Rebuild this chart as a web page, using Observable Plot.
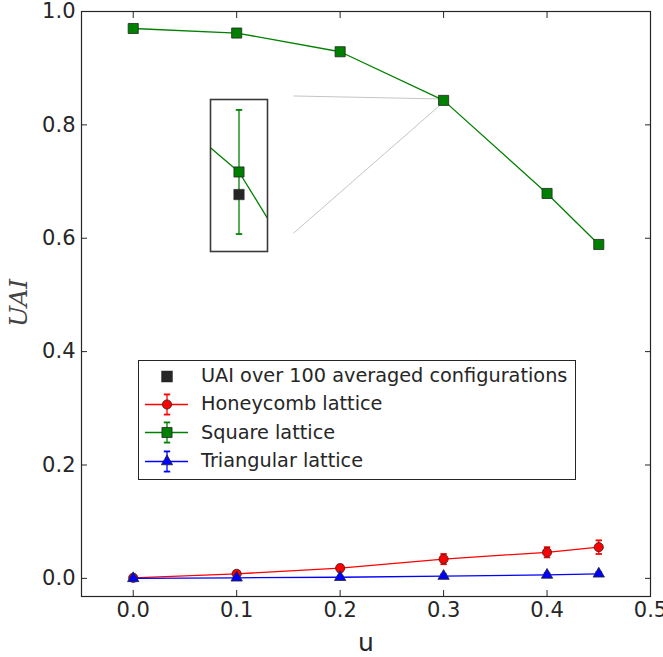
<!DOCTYPE html>
<html>
<head>
<meta charset="utf-8">
<script src="https://cdn.jsdelivr.net/npm/d3@7"></script>
<script src="https://cdn.jsdelivr.net/npm/@observablehq/plot@0.6"></script>
<style>
  html, body { margin: 0; padding: 0; background: #fff; }
  #wrap { position: relative; width: 663px; height: 657px; font-family: "DejaVu Sans", sans-serif; }
  #wrap svg { display: block; }
  #inset { position: absolute; left: 208px; top: 97px; }
  #inset svg { overflow: visible; }
  #legend { position: absolute; left: 138px; top: 360px; width: 436px; height: 118px;
            border: 1.2px solid #262626; background: #fff; box-sizing: content-box; }
  .row { position: absolute; left: 0; height: 28px; display: flex; align-items: center; }
  .row svg { margin-left: 6px; overflow: visible; }
  .row span { margin-left: 13px; font-size: 19.3px; color: #262626; white-space: nowrap; }
</style>
</head>
<body>
<div id="wrap">
  <div id="main"></div>
  <div id="inset"></div>
  <div id="legend"></div>
</div>
<script>
// ---- data ----
const u = [0.0, 0.1, 0.2, 0.3, 0.4, 0.45];
const honeycomb = [0.001, 0.008, 0.018, 0.034, 0.046, 0.055];
const honeycombErr = [0.002, 0.005, 0.006, 0.009, 0.009, 0.012];
const square = [0.970, 0.962, 0.929, 0.8432, 0.679, 0.589];
const squareErr = [0.0022, 0.0022, 0.0022, 0.0022, 0.0022, 0.0022];
const triangular = [0.0, 0.001, 0.002, 0.004, 0.006, 0.008];
const triangularErr = [0.002, 0.002, 0.002, 0.003, 0.003, 0.003];
const averagedU = [0.3];
const averagedUAI = [0.8424];
const xTicks = [0.0, 0.1, 0.2, 0.3, 0.4, 0.5];
const yTicks = [0.0, 0.2, 0.4, 0.6, 0.8, 1.0];
const seriesNames = ["Honeycomb lattice", "Square lattice", "Triangular lattice"];
const averagedName = "UAI over 100 averaged configurations";
const xLabel = "u";
const yLabel = "UAI";
// inset region (zoomed view around u = 0.3)
const insetX = [0.299, 0.301];
const insetY = [0.84038, 0.84577];
// connector lines from inset to the zoomed point
const connectorFromX = [0.155, 0.155];
const connectorFromY = [0.851, 0.609];
const connectorToX = [0.3, 0.3];
const connectorToY = [0.8456, 0.8402];

// ---- build tables ----
const colors = ["#ff0000", "#008000", "#0000ff"];
const symbols = ["circle", "square", "triangle"];
const vals = [honeycomb, square, triangular];
const errs = [honeycombErr, squareErr, triangularErr];
const series = seriesNames.map((name, i) => ({
  name, color: colors[i], symbol: symbols[i],
  rows: u.map((x, j) => ({x, y: vals[i][j], e: errs[i][j]}))
}));
const averaged = averagedU.map((x, i) => ({x, y: averagedUAI[i]}));
const connectors = connectorFromX.map((x, i) => ({x1: x, y1: connectorFromY[i], x2: connectorToX[i], y2: connectorToY[i]}));

const cap = { draw(ctx, size) { const w = 3.2; ctx.moveTo(-w, 0); ctx.lineTo(w, 0); } };
const edge = "#262626";
const markerR = {circle: 4.6, square: 5.7, triangle: 4.2};

function seriesMarks(s, opts = {}) {
  const clip = opts.clip || false;
  return [
    Plot.ruleX(s.rows, {x: "x", y1: d => d.y - d.e, y2: d => d.y + d.e, stroke: s.color, strokeWidth: 1.3, clip}),
    Plot.dot(s.rows, {x: "x", y: d => d.y - d.e, symbol: cap, r: 3, stroke: s.color, strokeWidth: 1.8, clip}),
    Plot.dot(s.rows, {x: "x", y: d => d.y + d.e, symbol: cap, r: 3, stroke: s.color, strokeWidth: 1.8, clip}),
    Plot.line(s.rows, {x: "x", y: "y", stroke: s.color, strokeWidth: 1.3, clip}),
    Plot.dot(s.rows, {x: "x", y: "y", symbol: s.symbol, r: markerR[s.symbol],
      fill: s.color, stroke: edge, strokeWidth: 0.8, clip})
  ];
}

const fmt = d3.format(".1f");
const W = 663, H = 657;
const main = Plot.plot({
  width: W, height: H,
  marginLeft: 81, marginRight: 13, marginTop: 11, marginBottom: 61,
  style: {fontFamily: "DejaVu Sans", fontSize: "21px", color: "#262626", background: "#fff"},
  x: {domain: [-0.05, 0.5]},
  y: {domain: [-0.032, 1.0]},
  marks: [
    Plot.link(connectors, {x1: "x1", y1: "y1", x2: "x2", y2: "y2", stroke: "#bdbdbd", strokeWidth: 0.9}),
    ...series.flatMap(s => seriesMarks(s)),
    Plot.frame({stroke: edge, strokeWidth: 1.2}),
    Plot.axisX({ticks: xTicks, tickSize: 0, tickPadding: 6, tickFormat: fmt, label: null}),
    Plot.axisY({ticks: yTicks, tickSize: 0, tickPadding: 6, tickFormat: fmt, label: null}),
    Plot.axisX({anchor: "bottom", ticks: xTicks, tickSize: -6, tickFormat: () => "", label: null, stroke: edge}),
    Plot.axisX({anchor: "top", ticks: xTicks, tickSize: -6, tickFormat: () => "", label: null, stroke: edge}),
    Plot.axisY({anchor: "left", ticks: yTicks, tickSize: -6, tickFormat: () => "", label: null, stroke: edge}),
    Plot.axisY({anchor: "right", ticks: yTicks, tickSize: -6, tickFormat: () => "", label: null, stroke: edge}),
    Plot.text([xLabel], {text: d => d, frameAnchor: "bottom", lineAnchor: "middle", textAnchor: "middle",
      dy: 46, fontSize: 25, fill: "#262626"}),
    Plot.text([yLabel], {text: d => d, frameAnchor: "left", lineAnchor: "middle", textAnchor: "middle",
      dx: -63, dy: -1, rotate: -90, fontSize: 25,
      fontFamily: "DejaVu Serif", fontStyle: "italic", fill: "#444"})
  ]
});
document.getElementById("main").appendChild(main);

const sq = series[1];
const inset = Plot.plot({
  width: 61, height: 156,
  margin: 2,
  style: {background: "#fff"},
  x: {domain: insetX, axis: null},
  y: {domain: insetY, axis: null},
  marks: [
    ...seriesMarks(sq, {clip: true}),
    Plot.dot(averaged, {x: "x", y: "y", symbol: "square", r: 5.9, fill: "#262626", stroke: "#262626", strokeWidth: 0.5}),
    Plot.frame({stroke: "#3a3a3a", strokeWidth: 1.6})
  ]
});
document.getElementById("inset").appendChild(inset);

// legend
const legend = document.getElementById("legend");
const entries = [{name: averagedName, color: "#262626", symbol: "square", line: false}]
  .concat(series.map(s => ({name: s.name, color: s.color, symbol: s.symbol, line: true})));
entries.forEach((e, i) => {
  const row = document.createElement("div");
  row.className = "row";
  row.style.top = (0.5 + i * 28.4) + "px";
  const handle = Plot.plot({
    width: 43, height: 24, margin: 0,
    x: {domain: [0, 1], axis: null}, y: {domain: [0, 1], axis: null},
    style: {background: "transparent", overflow: "visible"},
    marks: e.line ? [
      Plot.ruleY([0.5], {x1: 0, x2: 1, stroke: e.color, strokeWidth: 1.3}),
      Plot.ruleX([0.5], {y1: 0.08, y2: 0.92, stroke: e.color, strokeWidth: 1.3}),
      Plot.dot([0.08, 0.92], {x: 0.5, y: d => d, symbol: cap, r: 3, stroke: e.color, strokeWidth: 1.8}),
      Plot.dot([0.5], {x: 0.5, y: d => d, symbol: e.symbol, r: markerR[e.symbol], fill: e.color, stroke: edge, strokeWidth: 0.8})
    ] : [
      Plot.dot([0.5], {x: 0.5, y: d => d, symbol: "square", r: 5.6, fill: e.color, stroke: e.color})
    ]
  });
  row.appendChild(handle);
  const t = document.createElement("span");
  t.textContent = e.name;
  row.appendChild(t);
  legend.appendChild(row);
});
</script>
</body>
</html>
